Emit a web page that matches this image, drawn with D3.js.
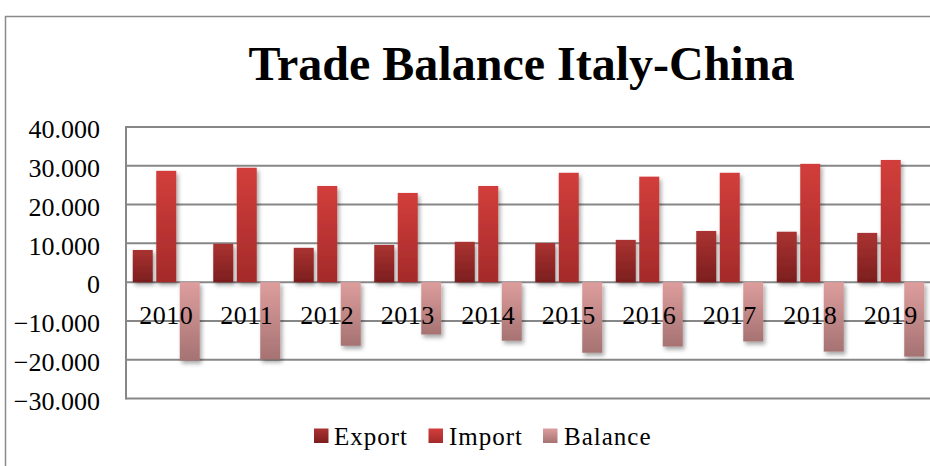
<!DOCTYPE html>
<html>
<head>
<meta charset="utf-8">
<script src="https://cdn.jsdelivr.net/npm/d3@7"></script>
<style>
  html, body { margin: 0; padding: 0; background: #fff; }
  svg { display: block; }
  text { font-family: "Liberation Serif", "Times New Roman", serif; fill: #000; }
</style>
</head>
<body>
<svg id="chart" width="930" height="466"></svg>
<script>
// Italy–China trade, million euro
const years = ["2010","2011","2012","2013","2014","2015","2016","2017","2018","2019"];
const exportValues = [8300, 9900, 8850, 9600, 10400, 10100, 10900, 13200, 13000, 12700];
const importValues = [28700, 29500, 24800, 23000, 24800, 28200, 27200, 28200, 30500, 31500];
const balanceValues = [-20200, -19900, -16400, -13500, -15100, -18200, -16600, -15300, -17900, -19200];
const seriesNames = ["Export", "Import", "Balance"];
const yTicks = [-30000, -20000, -10000, 0, 10000, 20000, 30000, 40000];

const W = 930, H = 466;
const plot = { left: 126, right: 931, top: 127, bottom: 398.5 };

const svg = d3.select("#chart");
const defs = svg.append("defs");

// vertical gradients per series (light top, dark bottom)
const gradStops = [
  ["#aa3331", "#7c1e1e"],
  ["#d23e3b", "#a42a2a"],
  ["#dd9e9d", "#a67272"]
];
gradStops.forEach((c, i) => {
  const g = defs.append("linearGradient")
    .attr("id", "grad" + i).attr("x1", 0).attr("y1", 0).attr("x2", 0).attr("y2", 1);
  g.append("stop").attr("offset", "0%").attr("stop-color", c[0]);
  g.append("stop").attr("offset", "100%").attr("stop-color", c[1]);
});
const shadow = defs.append("filter").attr("id", "shadow")
  .attr("x", "-30%").attr("y", "-10%").attr("width", "180%").attr("height", "130%");
shadow.append("feDropShadow").attr("dx", 2).attr("dy", 3)
  .attr("stdDeviation", 2).attr("flood-color", "#000").attr("flood-opacity", 0.35);

// outer chart frame
svg.append("rect")
  .attr("x", 5.5).attr("y", 16.5).attr("width", W).attr("height", H)
  .attr("fill", "none").attr("stroke", "#8a8a8a").attr("stroke-width", 1.5);

// title
svg.append("text")
  .attr("x", 521.5).attr("y", 79.5)
  .attr("text-anchor", "middle")
  .style("font-size", "48px").style("font-weight", "bold")
  .text("Trade Balance Italy-China");

const x = d3.scaleBand().domain(years).range([plot.left, plot.right]).padding(0);
const y = d3.scaleLinear().domain([-30000, 40000]).range([plot.bottom, plot.top]);

// horizontal gridlines
svg.append("g").selectAll("line").data(yTicks).join("line")
  .attr("x1", plot.left).attr("x2", plot.right)
  .attr("y1", d => y(d)).attr("y2", d => y(d))
  .attr("stroke", "#878787").attr("stroke-width", 2);

// plot area left edge
svg.append("line")
  .attr("x1", plot.left).attr("x2", plot.left)
  .attr("y1", plot.top - 1).attr("y2", plot.bottom + 1)
  .attr("stroke", "#878787").attr("stroke-width", 2);

// y axis labels
const yAxis = d3.axisLeft(y).tickValues(yTicks).tickSize(0).tickPadding(0)
  .tickFormat(d => d3.format(",")(d).replace(/,/g, "."));
const yg = svg.append("g").attr("transform", `translate(${plot.left - 26},0)`).call(yAxis);
yg.select(".domain").remove();
yg.selectAll("text")
  .attr("fill", "#000")
  .attr("dy", "0.41em")
  .style("font-family", "'Liberation Serif', 'Times New Roman', serif")
  .style("font-size", "26px");

// bars
const barW = 20, barStep = 23.5;
const series = [exportValues, importValues, balanceValues];
series.forEach((vals, si) => {
  svg.append("g").attr("filter", "url(#shadow)")
    .selectAll("rect").data(vals).join("rect")
    .attr("x", (d, i) => x(years[i]) + x.bandwidth() / 2 + (si - 1) * barStep - barW / 2)
    .attr("y", d => Math.min(y(d), y(0)))
    .attr("width", barW)
    .attr("height", d => Math.abs(y(d) - y(0)))
    .attr("fill", `url(#grad${si})`);
});

// category labels
svg.append("g").selectAll("text").data(years).join("text")
  .attr("x", d => x(d) + x.bandwidth() / 2)
  .attr("y", 324)
  .attr("text-anchor", "middle")
  .style("font-size", "26px")
  .style("letter-spacing", "0.5px")
  .text(d => d);

// legend
const legendItems = [
  { name: seriesNames[0], sx: 314, tx: 334 },
  { name: seriesNames[1], sx: 428.5, tx: 449 },
  { name: seriesNames[2], sx: 543, tx: 564 }
];
const lg = svg.append("g");
legendItems.forEach((it, i) => {
  lg.append("rect").attr("x", it.sx).attr("y", 428.5).attr("width", 14.5).attr("height", 14.5)
    .attr("fill", `url(#grad${i})`);
  lg.append("text").attr("x", it.tx).attr("y", 445)
    .style("font-size", "25px").style("letter-spacing", "1px")
    .text(it.name);
});
</script>
</body>
</html>
